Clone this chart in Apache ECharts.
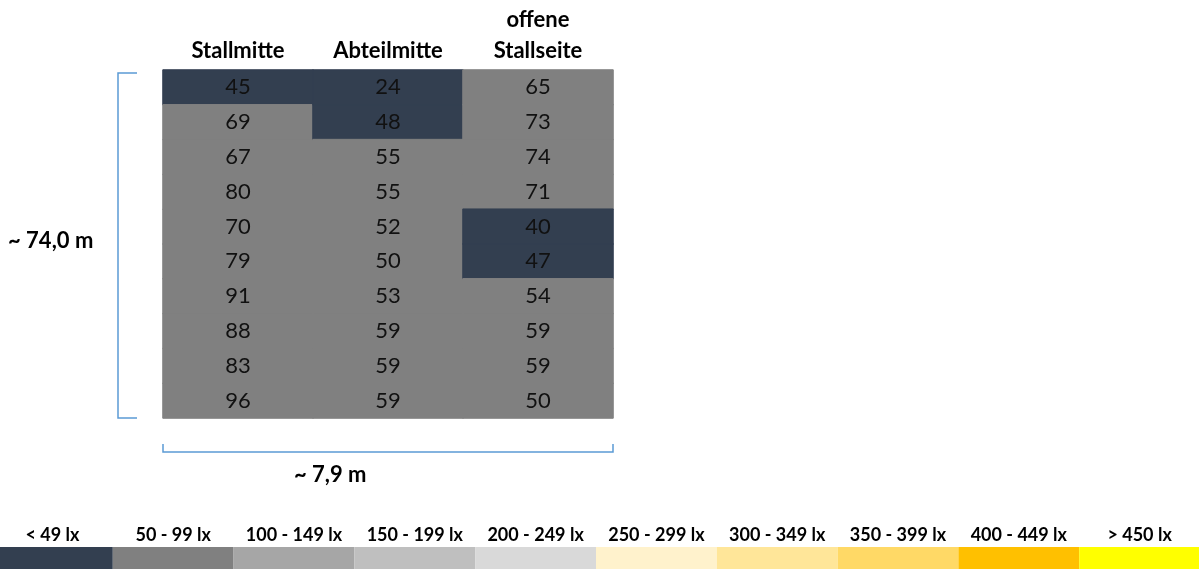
<!DOCTYPE html>
<html>
<head>
<meta charset="utf-8">
<script src="https://cdn.jsdelivr.net/npm/echarts@6/dist/echarts.min.js"></script>
<style>
  html, body { margin: 0; padding: 0; background: #ffffff; }
  #main { width: 1199px; height: 569px; }
</style>
</head>
<body>
<div id="main"></div>
<script>
// Messpositionen (Spalten) und Reihen
var positions = ['Stallmitte', 'Abteilmitte', 'offene\nStallseite'];
var rows = ['1', '2', '3', '4', '5', '6', '7', '8', '9', '10'];

// Beleuchtungsstärke in lx je Spalte
var stallmitte = [45, 69, 67, 80, 70, 79, 91, 88, 83, 96];
var abteilmitte = [24, 48, 55, 55, 52, 50, 53, 59, 59, 59];
var offeneSeite = [65, 73, 74, 71, 40, 47, 54, 59, 59, 50];

// Farbskala (Stufen zu je 50 lx)
var scaleLabels = ['< 49 lx', '50 - 99 lx', '100 - 149 lx', '150 - 199 lx', '200 - 249 lx',
  '250 - 299 lx', '300 - 349 lx', '350 - 399 lx', '400 - 449 lx', '> 450 lx'];
var scaleColors = ['#333f50', '#808080', '#a6a6a6', '#bfbfbf', '#d9d9d9',
  '#fff2cc', '#ffe699', '#ffd966', '#ffc000', '#ffff00'];

function colorOf(v) {
  var i = Math.min(Math.floor(v / 50), scaleColors.length - 1);
  return scaleColors[i];
}

var columns = [stallmitte, abteilmitte, offeneSeite];
var cells = [];
columns.forEach(function (col, x) {
  col.forEach(function (v, y) {
    var c = colorOf(v);
    // Rand in Zellfarbe, damit keine hellen Fugen zwischen den Zellen bleiben
    cells.push({ value: [x, y, v], itemStyle: { color: c, borderColor: c, borderWidth: 1 } });
  });
});

var scaleData = scaleColors.map(function (c) {
  return { value: 1, itemStyle: { color: c } };
});

var font = 'Lato, "Open Sans", sans-serif';
var bracket = '#5b9bd5';

var chart = echarts.init(document.getElementById('main'));

var option = {
  animation: false,
  textStyle: { fontFamily: font },
  grid: [
    { left: 163, top: 70, width: 450, height: 348, outerBoundsMode: 'none' },
    { left: -8, top: 547, width: 1208, height: 22, outerBoundsMode: 'none' }
  ],
  xAxis: [
    {
      type: 'category',
      gridIndex: 0,
      position: 'top',
      data: positions,
      axisLine: { show: false },
      axisTick: { show: false },
      axisLabel: {
        margin: 4,
        color: '#000',
        fontSize: 22,
        fontWeight: 'bold',
        lineHeight: 31,
        fontFamily: font
      }
    },
    {
      type: 'category',
      gridIndex: 1,
      position: 'top',
      data: scaleLabels,
      axisLine: { show: false },
      axisTick: { show: false },
      axisLabel: {
        margin: 3,
        interval: 0,
        color: '#000',
        fontSize: 18,
        fontWeight: 'bold',
        fontFamily: font
      }
    }
  ],
  yAxis: [
    {
      type: 'category',
      gridIndex: 0,
      data: rows,
      inverse: true,
      show: false
    },
    {
      type: 'value',
      gridIndex: 1,
      min: 0,
      max: 1,
      show: false
    }
  ],
  series: [
    {
      type: 'heatmap',
      xAxisIndex: 0,
      yAxisIndex: 0,
      data: cells,
      label: {
        show: true,
        color: '#111',
        fontSize: 22,
        fontFamily: font,
        formatter: function (p) { return p.value[2]; }
      },
      emphasis: { disabled: true }
    },
    {
      type: 'bar',
      xAxisIndex: 1,
      yAxisIndex: 1,
      data: scaleData,
      barCategoryGap: 0,
      silent: true
    }
  ],
  graphic: [
    {
      type: 'polyline',
      shape: { points: [[137, 73], [118, 73], [118, 418], [137, 418]] },
      style: { stroke: bracket, lineWidth: 1.5, fill: null }
    },
    {
      type: 'polyline',
      shape: { points: [[163, 444], [163, 452], [613, 452], [613, 444]] },
      style: { stroke: bracket, lineWidth: 1.5, fill: null }
    },
    {
      type: 'text',
      left: 8,
      top: 230,
      style: { text: '~ 74,0 m', font: 'bold 22px ' + font, fill: '#000' }
    },
    {
      type: 'text',
      left: 294,
      top: 464,
      style: { text: '~ 7,9 m', font: 'bold 22px ' + font, fill: '#000' }
    }
  ]
};

chart.setOption(option);
</script>
</body>
</html>
